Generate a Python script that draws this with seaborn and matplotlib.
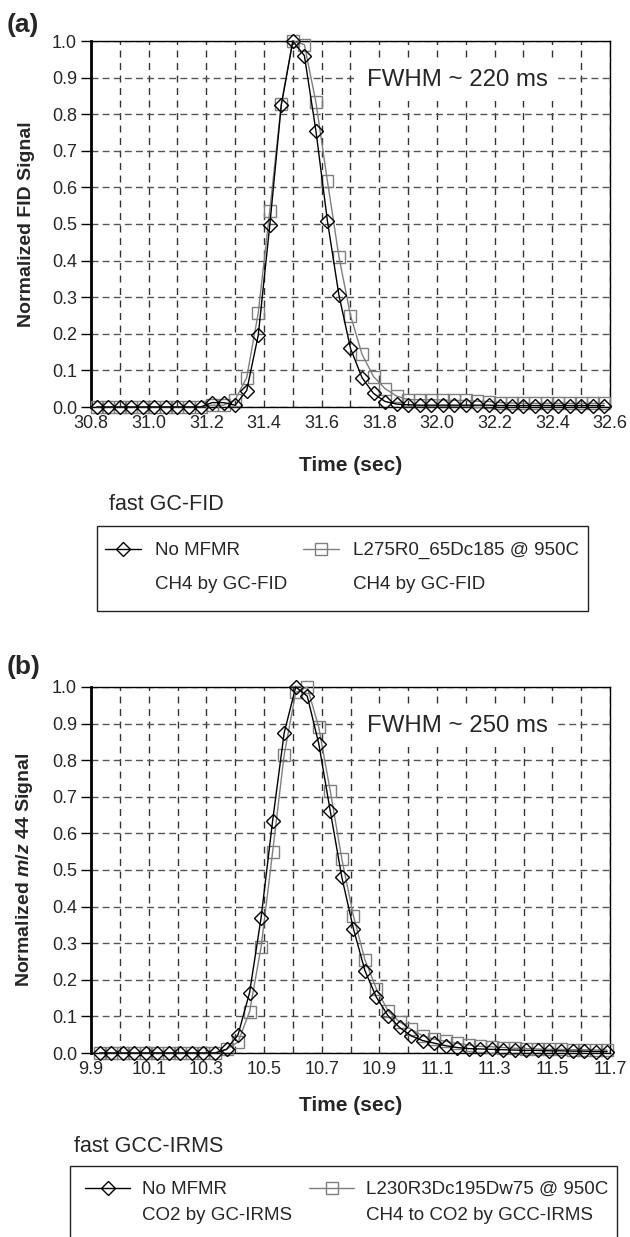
import numpy as np
import matplotlib
matplotlib.use("Agg")
import matplotlib.pyplot as plt
from matplotlib.lines import Line2D
from matplotlib.patches import Rectangle
from matplotlib.ticker import MultipleLocator, FormatStrFormatter
import seaborn as sns

sns.set_style("white")
plt.rcParams['font.family'] = ['Liberation Sans', 'DejaVu Sans']
plt.rcParams['mathtext.fontset'] = 'custom'
plt.rcParams['mathtext.it'] = 'Liberation Sans:bold:italic'
plt.rcParams['mathtext.rm'] = 'Liberation Sans:bold'

# (a) fast GC-FID, 45 samples every 0.04 s
t_a = np.round(30.82 + 0.04 * np.arange(45), 2)
fid_no_mfmr = [0, 0, 0, 0, 0, 0, 0, 0, 0, 0,
               0.012, 0.012, 0.005, 0.045, 0.196, 0.496, 0.825, 1.0, 0.96, 0.755,
               0.508, 0.305, 0.16, 0.08, 0.037, 0.015, 0.008, 0.006, 0.005, 0.005,
               0.005, 0.005, 0.005, 0.005, 0.005, 0.004, 0.004, 0.004, 0.004, 0.004,
               0.004, 0.004, 0.004, 0.004, 0.004]
fid_l275 = [0, 0, 0, 0, 0, 0, 0, 0, 0, 0,
            0.005, 0.005, 0.02, 0.08, 0.257, 0.536, 0.828, 1.0, 0.99, 0.833,
            0.617, 0.41, 0.25, 0.144, 0.083, 0.05, 0.03, 0.02, 0.02, 0.02,
            0.019, 0.018, 0.018, 0.016, 0.015, 0.012, 0.011, 0.01, 0.01, 0.01,
            0.01, 0.01, 0.01, 0.01, 0.01]

# (b) fast GCC-IRMS
t_b = np.round(9.93 + 0.04 * np.arange(45), 2)
irms_no_mfmr = [0, 0, 0, 0, 0, 0, 0, 0, 0, 0,
                0, 0.01, 0.05, 0.165, 0.37, 0.635, 0.875, 1.0, 0.975, 0.845,
                0.66, 0.48, 0.34, 0.225, 0.152, 0.102, 0.07, 0.047, 0.034, 0.027,
                0.02, 0.015, 0.012, 0.011, 0.01, 0.009, 0.008, 0.007, 0.007, 0.006,
                0.006, 0.005, 0.005, 0.004, 0.004]
irms_l230 = [0, 0, 0, 0, 0, 0, 0, 0, 0, 0,
             0, 0.01, 0.03, 0.113, 0.29, 0.55, 0.815, 0.985, 1.0, 0.89,
             0.715, 0.53, 0.375, 0.255, 0.175, 0.115, 0.085, 0.065, 0.047, 0.038,
             0.032, 0.026, 0.022, 0.018, 0.017, 0.015, 0.013, 0.012, 0.011, 0.01,
             0.01, 0.009, 0.009, 0.008, 0.008]

W, H = 630, 1237
fig = plt.figure(figsize=(W / 100, H / 100), dpi=100)


def fx(px):
    return px / W


def fy(px):
    return 1 - px / H


def panel(top_px, t, y1, y2, xlim, ylabel, fwhm, xpad):
    ax = fig.add_axes([fx(91), fy(top_px + 366), 519 / W, 366 / H])
    sns.lineplot(x=t, y=y1, ax=ax, color='black', lw=1, marker='D', markersize=7,
                 markerfacecolor='none', markeredgecolor='black', markeredgewidth=1,
                 clip_on=False, zorder=4)
    sns.lineplot(x=t, y=y2, ax=ax, color='#7f7f7f', lw=1, marker='s', markersize=9,
                 markerfacecolor='none', markeredgecolor='#7f7f7f', markeredgewidth=1,
                 clip_on=False, zorder=3)
    ax.set_xlim(*xlim)
    ax.set_ylim(0, 1.0)
    ax.set_xticks(np.arange(xlim[0], xlim[1] + 0.01, 0.2))
    ax.xaxis.set_minor_locator(MultipleLocator(0.1))
    ax.yaxis.set_major_locator(MultipleLocator(0.1))
    ax.xaxis.set_major_formatter(FormatStrFormatter('%.1f'))
    ax.yaxis.set_major_formatter(FormatStrFormatter('%.1f'))
    ax.grid(True, which='both', axis='x', color='#333333', lw=1, ls=(0, (5, 4)))
    ax.grid(True, which='major', axis='y', color='#555555', lw=1, ls=(0, (5, 3)))
    ax.set_axisbelow(True)
    for s in ax.spines.values():
        s.set_color('black')
        s.set_linewidth(1)
    ax.spines['left'].set_linewidth(2)
    ax.tick_params(axis='y', which='major', length=7, width=1, color='black',
                   direction='out', left=True, labelsize=13, pad=3)
    ax.tick_params(axis='x', which='both', length=0, labelsize=13, pad=6)
    ax.set_xlabel('Time (sec)', fontsize=15, fontweight='bold', labelpad=xpad)
    ax.set_ylabel(ylabel, fontsize=14, fontweight='bold', labelpad=12)
    ax.text(0.532, 0.893, fwhm, transform=ax.transAxes, fontsize=17.3, va='center',
            ha='left', zorder=5,
            bbox=dict(facecolor='white', edgecolor='none', pad=7))
    return ax


ax_a = panel(41, t_a, fid_no_mfmr, fid_l275, (30.8, 32.6),
             'Normalized FID Signal', 'FWHM ~ 220 ms', 17)
ax_b = panel(687, t_b, irms_no_mfmr, irms_l230, (9.9, 11.7),
             'Normalized $m/z$ 44 Signal', 'FWHM ~ 250 ms', 13)

fig.text(fx(7), fy(25), '(a)', fontsize=19, fontweight='bold', va='center')
fig.text(fx(7), fy(667), '(b)', fontsize=19, fontweight='bold', va='center')


def legend_box(box, title_xy, anchor, labels, hlen, tpad, cspace, lspace):
    x0, x1, y0, y1 = box
    fig.add_artist(Rectangle((fx(x0), fy(y1)), (x1 - x0) / W, (y1 - y0) / H,
                             transform=fig.transFigure, facecolor='none',
                             edgecolor='#222222', lw=1))
    fig.text(fx(title_xy[0]), fy(title_xy[1]), labels[0], fontsize=15.5, va='center')
    h1 = Line2D([], [], color='black', lw=1, marker='D', ms=7, mfc='none', mec='black')
    h2 = Line2D([], [], color='#7f7f7f', lw=1, marker='s', ms=9, mfc='none', mec='#7f7f7f')
    blank = Line2D([], [], color='none')
    fig.legend([h1, blank, h2, blank], labels[1:], ncol=2,
               loc='upper left', bbox_to_anchor=(fx(anchor[0]), fy(anchor[1])),
               fontsize=13.5, frameon=False, handlelength=hlen,
               handletextpad=tpad, columnspacing=cspace, labelspacing=lspace,
               borderpad=0, borderaxespad=0)


legend_box((97, 588, 526, 611), (109, 505), (105, 542),
           ['fast GC-FID', 'No MFMR', 'CH4 by GC-FID',
            'L275R0_65Dc185 @ 950C', 'CH4 by GC-FID'],
           1.9, 0.75, 0.85, 0.9)
legend_box((70, 617, 1166, 1260), (74, 1147), (85, 1181),
           ['fast GCC-IRMS', 'No MFMR', 'CO2 by GC-IRMS',
            'L230R3Dc195Dw75 @ 950C', 'CH4 to CO2 by GCC-IRMS'],
           2.4, 0.65, 0.9, 0.44)

fig.savefig('out.png', dpi=100)
